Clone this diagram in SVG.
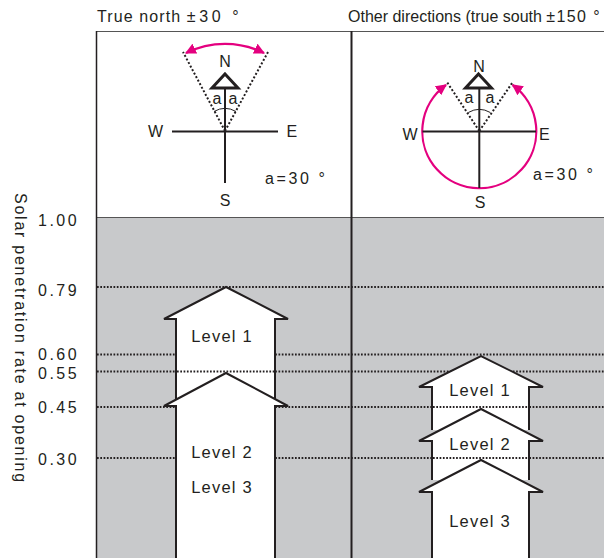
<svg xmlns="http://www.w3.org/2000/svg" width="604" height="558" viewBox="0 0 604 558">
<style>
text{font-family:"Liberation Sans",Arial,sans-serif;fill:#231f20}
.hdr{font-size:16px}
.num{font-size:16px;letter-spacing:2.5px}
.lvl{font-size:16.5px;letter-spacing:1.2px;text-anchor:middle}
.dir{font-size:16px}
.mid{text-anchor:middle}
.grid{stroke:#231f20;stroke-width:2;stroke-dasharray:1.7 1.6;fill:none}
.arrow{fill:#fff;stroke:#231f20;stroke-width:2;stroke-linejoin:miter}
.axisln{stroke:#231f20;stroke-width:2;fill:none}
.dots{stroke:#231f20;stroke-width:2;stroke-dasharray:2 2;fill:none}
.thin{stroke:#231f20;stroke-width:1;fill:none}
.mag{stroke:#e4007f;stroke-width:2.2;fill:none}
</style>
<defs>
<marker id="mh" viewBox="0 0 10 10" refX="9" refY="5" markerWidth="5" markerHeight="5" orient="auto-start-reverse" markerUnits="strokeWidth">
<path d="M0,0 L10,5 L0,10 Z" fill="#e4007f"/>
</marker>
</defs>
<rect x="0" y="0" width="604" height="558" fill="#fff"/>
<g id="frame">
<rect x="96" y="217" width="508" height="341" fill="#c8c9cb"/>
<line x1="96" y1="31.5" x2="604" y2="31.5" stroke="#555" stroke-width="1.2"/>
<line x1="96" y1="217.5" x2="604" y2="217.5" stroke="#555" stroke-width="1.2"/>
<line x1="96.5" y1="31" x2="96.5" y2="558" stroke="#231f20" stroke-width="1.5"/>
<line x1="351.5" y1="31" x2="351.5" y2="558" stroke="#231f20" stroke-width="2"/>
</g>
<g id="headers">
<text class="hdr" x="97" y="22"><tspan letter-spacing="1.1">True north </tspan><tspan letter-spacing="3.6">±30 °</tspan></text>
<text class="hdr" x="348" y="22" font-size="15.6">Other directions (true south <tspan letter-spacing="1.4">±150 °</tspan></text>
</g>
<g id="axis-label">
<text class="hdr" transform="translate(15,193) rotate(90)" letter-spacing="1.75">Solar penetration rate at opening</text>
<text class="num" x="38" y="226">1.00</text>
<text class="num" x="38" y="296">0.79</text>
<text class="num" x="38" y="360">0.60</text>
<text class="num" x="38" y="379">0.55</text>
<text class="num" x="38" y="413">0.45</text>
<text class="num" x="38" y="465">0.30</text>
</g>
<g id="gridlines">
<line class="grid" x1="97" y1="287" x2="604" y2="287"/>
<line class="grid" x1="97" y1="354.5" x2="604" y2="354.5"/>
<line class="grid" x1="97" y1="371.5" x2="604" y2="371.5"/>
<line class="grid" x1="97" y1="407" x2="604" y2="407"/>
<line class="grid" x1="97" y1="458" x2="604" y2="458"/>
</g>
<g id="left-level1">
<path class="arrow" d="M176,440 L176,319 L164,319 L226,287 L288,319 L275,319 L275,440"/>
<text class="lvl" x="222" y="342">Level 1</text>
</g>
<g id="left-level23">
<line class="grid" x1="177" y1="371.5" x2="274" y2="371.5"/>
<path class="arrow" d="M176,560 L176,406 L164,406 L226,373 L288,406 L275,406 L275,560"/>
<text class="lvl" x="222" y="458">Level 2</text>
<text class="lvl" x="222" y="493">Level 3</text>
</g>
<g id="right-level1">
<path class="arrow" d="M432,430 L432,387 L419,387 L481,356 L543,387 L529,387 L529,430"/>
<text class="lvl" x="480" y="396">Level 1</text>
</g>
<g id="right-level2">
<line class="grid" x1="433" y1="407" x2="528" y2="407"/>
<path class="arrow" d="M432,480 L432,441 L419,441 L481,409 L543,441 L529,441 L529,480"/>
<text class="lvl" x="480" y="450">Level 2</text>
</g>
<g id="right-level3">
<line class="grid" x1="433" y1="458" x2="528" y2="458"/>
<path class="arrow" d="M432,560 L432,492 L419,492 L481,460 L543,492 L529,492 L529,560"/>
<text class="lvl" x="480" y="527">Level 3</text>
</g>
<g id="compass-north">
<line class="axisln" x1="172" y1="131.5" x2="278" y2="131.5"/>
<line class="axisln" x1="225" y1="88" x2="225" y2="183"/>
<path d="M225,74 L238,88 L212,88 Z" fill="none" stroke="#231f20" stroke-width="3" stroke-linejoin="miter"/>
<line class="dots" x1="225" y1="131" x2="183" y2="52"/>
<line class="dots" x1="225" y1="131" x2="268" y2="52"/>
<path class="thin" d="M214,111.5 A22 22 0 0 1 236,111.5"/>
<path class="mag" d="M186,53 A88 88 0 0 1 264,53" marker-start="url(#mh)" marker-end="url(#mh)"/>
<text class="dir mid" x="225" y="67">N</text>
<text class="dir" x="148" y="137">W</text>
<text class="dir" x="286.5" y="137">E</text>
<text class="dir mid" x="225" y="206">S</text>
<text class="dir mid" x="217" y="104">a</text>
<text class="dir mid" x="233" y="104">a</text>
<text class="dir" x="265" y="184" letter-spacing="2.6">a=30 °</text>
</g>
<g id="compass-other">
<path class="mag" d="M446,85 A57 57 0 1 0 512.6,85" marker-start="url(#mh)" marker-end="url(#mh)"/>
<line class="axisln" x1="422.5" y1="131.5" x2="536" y2="131.5"/>
<line class="axisln" x1="479.3" y1="88" x2="479.3" y2="188"/>
<path d="M478.5,74 L491.5,88 L465.5,88 Z" fill="none" stroke="#231f20" stroke-width="3" stroke-linejoin="miter"/>
<line class="dots" x1="479.3" y1="131" x2="446.7" y2="81.7"/>
<line class="dots" x1="479.3" y1="131" x2="513" y2="81.7"/>
<path class="thin" d="M468.3,112.5 A22 22 0 0 1 490.3,112.5"/>
<text class="dir mid" x="479" y="71.5">N</text>
<text class="dir" x="402.5" y="140">W</text>
<text class="dir" x="539" y="140">E</text>
<text class="dir mid" x="480" y="208">S</text>
<text class="dir mid" x="469" y="103">a</text>
<text class="dir mid" x="490" y="103">a</text>
<text class="dir" x="533" y="180" letter-spacing="2.6">a=30 °</text>
</g>
</svg>
